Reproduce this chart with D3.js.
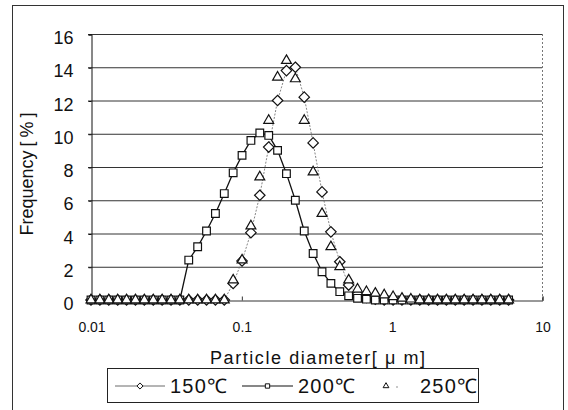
<!DOCTYPE html>
<html>
<head>
<meta charset="utf-8">
<script src="https://cdn.jsdelivr.net/npm/d3@7"></script>
<style>
  body { margin: 0; background: #fff; }
  text { font-family: "Liberation Sans", Arial, sans-serif; fill: #111; }
</style>
</head>
<body>
<div id="chart"></div>
<script>
const width = 568;
const height = 410;

// particle diameter bins [um]
const diameters = [
  0.01, 0.01146, 0.01313, 0.01505, 0.01724, 0.01976, 0.02264, 0.02595,
  0.02973, 0.03407, 0.03899, 0.04469, 0.05122, 0.05867, 0.06724, 0.07702,
  0.08823, 0.1011, 0.1158, 0.1327, 0.1521, 0.1742, 0.1996, 0.2287,
  0.2621, 0.3003, 0.3441, 0.3942, 0.4517, 0.5175, 0.5929, 0.6794,
  0.7785, 0.8921, 1.022, 1.171, 1.342, 1.538, 1.762, 2.018,
  2.312, 2.650, 3.036, 3.478, 3.985, 4.566, 5.232, 5.995
];

// frequency [%]
const freq150 = [
  0, 0, 0, 0, 0, 0, 0, 0, 0, 0, 0, 0, 0, 0, 0, 0,
  1.0, 2.35, 4.05, 6.3, 9.2, 12.0, 13.8, 14.0, 12.2, 9.45, 6.5, 4.1, 2.3, 0.9, 0.35, 0.15,
  0.05, 0, 0, 0, 0, 0, 0, 0, 0, 0, 0, 0, 0, 0, 0, 0
];
const freq200 = [
  0, 0, 0, 0, 0, 0, 0, 0, 0, 0, 0, 2.4, 3.2, 4.15, 5.2, 6.4,
  7.65, 8.7, 9.6, 10.05, 9.9, 9.0, 7.6, 6.0, 4.15, 2.8, 1.7, 1.0, 0.5, 0.25, 0.1, 0.05,
  0, 0, 0, 0, 0, 0, 0, 0, 0, 0, 0, 0, 0, 0, 0, 0
];
const freq250 = [
  0, 0, 0, 0, 0, 0, 0, 0, 0, 0, 0, 0, 0, 0, 0, 0,
  1.2, 2.4, 4.45, 7.4, 10.8, 13.4, 14.4, 13.3, 10.8, 7.7, 5.2, 3.2, 2.0, 1.2, 0.65, 0.5,
  0.4, 0.3, 0.2, 0.1, 0.05, 0, 0, 0, 0, 0, 0, 0, 0, 0, 0, 0
];

const seriesNames = ["150\u2103", "200\u2103", "250\u2103"];
const xTicks = [0.01, 0.1, 1, 10];
const yTicks = [0, 2, 4, 6, 8, 10, 12, 14, 16];

const plot = { left: 91, right: 542, top: 34, bottom: 300 };

let svg = d3.select("#chart").append("svg")
    .attr("width", width)
    .attr("height", height);

// outer chart frame
svg.append("rect")
    .attr("x", 12.5).attr("y", 5.5)
    .attr("width", 551).attr("height", 420)
    .attr("fill", "none")
    .attr("stroke", "#333")
    .attr("stroke-width", 1);

let xScale = d3.scaleLog()
    .domain([0.01, 10])
    .range([plot.left, plot.right]);

let yScale = d3.scaleLinear()
    .domain([0, 16])
    .range([plot.bottom, plot.top]);

// gridlines
svg.append("g")
    .selectAll("line")
    .data(yTicks.filter(d => d > 0))
    .join("line")
      .attr("x1", plot.left - 3).attr("x2", plot.right)
      .attr("y1", d => yScale(d) + 0.5).attr("y2", d => yScale(d) + 0.5)
      .attr("stroke", "#333")
      .attr("stroke-width", 1);

// right border, dashed
svg.append("line")
    .attr("x1", plot.right + 0.5).attr("x2", plot.right + 0.5)
    .attr("y1", plot.top).attr("y2", plot.bottom)
    .attr("stroke", "#777")
    .attr("stroke-dasharray", "2,2");

// y axis
let yAxis = svg.append("g")
    .attr("transform", `translate(${plot.left + 0.5},0.5)`)
    .call(d3.axisLeft(yScale).tickValues(yTicks).tickSize(3).tickPadding(15));
yAxis.select(".domain").attr("stroke", "#111");
yAxis.selectAll(".tick line").attr("stroke", "#111");
yAxis.selectAll(".tick text")
    .attr("dy", "0.5em")
    .style("font-size", "18px")
    .attr("fill", "#111");

// x axis
let xAxis = svg.append("g")
    .attr("transform", `translate(0.5,${plot.bottom + 0.5})`)
    .call(d3.axisBottom(xScale).tickValues(xTicks).tickFormat(d => String(d)).tickSize(-4).tickPadding(22));
xAxis.select(".domain").attr("stroke", "#333");
xAxis.selectAll(".tick line").attr("stroke", "#333");
xAxis.selectAll(".tick text")
    .style("font-size", "14px")
    .attr("fill", "#111");

// axis titles
let yTitle = svg.append("text")
    .attr("transform", "translate(33,174) rotate(-90)")
    .attr("text-anchor", "middle")
    .style("font-size", "18px");
yTitle.append("tspan").text("Frequency");
yTitle.append("tspan").attr("dx", 4).text("[");
yTitle.append("tspan").attr("dx", 4).text("%");
yTitle.append("tspan").attr("dx", 4).text("]");

svg.append("text")
    .attr("x", 210).attr("y", 364)
    .attr("textLength", 215)
    .attr("lengthAdjust", "spacing")
    .style("font-size", "18px")
    .text("Particle diameter[ \u03bc m]");

// markers
const diamond = d3.symbol().type(d3.symbolDiamond2);
const square = d3.symbol().type(d3.symbolSquare2);
const triangle = d3.symbol().type(d3.symbolTriangle2);

function markerPath(type, size) {
    if (type === "diamond") return diamond.size(size)();
    if (type === "square") return square.size(size)();
    return triangle.size(size)();
}

const series = [
    { name: seriesNames[0], values: freq150, marker: "diamond", size: 70, line: true, stroke: "#666", width: 0.8, dash: "2,1.5" },
    { name: seriesNames[1], values: freq200, marker: "square", size: 75, line: true, stroke: "#111", width: 1.3, dash: null },
    { name: seriesNames[2], values: freq250, marker: "triangle", size: 70, line: false }
];

let line = d3.line()
    .x(d => xScale(d[0]))
    .y(d => yScale(d[1]));

series.forEach(s => {
    let pts = diameters.map((d, i) => [d, s.values[i]]);
    if (s.line) {
        svg.append("path")
            .datum(pts)
            .attr("d", line)
            .attr("fill", "none")
            .attr("stroke", s.stroke)
            .attr("stroke-width", s.width)
            .attr("stroke-dasharray", s.dash);
    }
    svg.append("g")
        .selectAll("path")
        .data(pts)
        .join("path")
          .attr("transform", d => `translate(${xScale(d[0])},${yScale(d[1])})`)
          .attr("d", markerPath(s.marker, s.size))
          .attr("fill", "#fff")
          .attr("stroke", "#111")
          .attr("stroke-width", 1.2);
});

// legend
let legend = svg.append("g");
legend.append("rect")
    .attr("x", 107.5).attr("y", 368.5)
    .attr("width", 371).attr("height", 34)
    .attr("fill", "#fff")
    .attr("stroke", "#222");

const legendItems = [
    { s: series[0], x0: 115, x1: 165, tx: 170 },
    { s: series[1], x0: 242, x1: 293, tx: 298 },
    { s: series[2], x0: 380, x1: 392, tx: 420 }
];
const ly = 386;
legendItems.forEach(it => {
    if (it.s.line) {
        legend.append("line")
            .attr("x1", it.x0).attr("x2", it.x1)
            .attr("y1", ly).attr("y2", ly)
            .attr("stroke", it.s.stroke === "#666" ? "#444" : it.s.stroke)
            .attr("stroke-width", Math.max(0.8, it.s.width - 0.2));
    } else {
        legend.append("circle")
            .attr("cx", 397).attr("cy", ly + 1)
            .attr("r", 0.7)
            .attr("fill", "#666");
    }
    legend.append("path")
        .attr("transform", `translate(${it.s.line ? (it.x0 + it.x1) / 2 : 386},${ly})`)
        .attr("d", markerPath(it.s.marker, 24))
        .attr("fill", "#fff")
        .attr("stroke", "#111")
        .attr("stroke-width", 1);
    legend.append("text")
        .attr("x", it.tx).attr("y", ly + 7)
        .attr("textLength", 57)
        .attr("lengthAdjust", "spacing")
        .style("font-size", "20px")
        .text(it.s.name);
});
</script>
</body>
</html>
